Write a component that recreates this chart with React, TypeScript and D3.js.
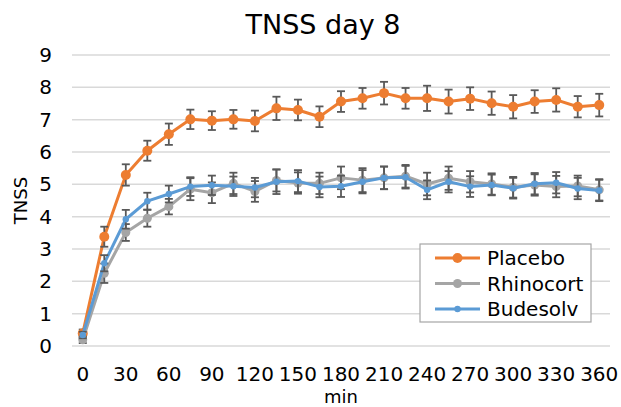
import React from "react";
import * as d3 from "d3";

const minutes = [0, 15, 30, 45, 60, 75, 90, 105, 120, 135, 150, 165, 180, 195, 210, 225, 240, 255, 270, 285, 300, 315, 330, 345, 360];
const yTicks = [0, 1, 2, 3, 4, 5, 6, 7, 8, 9];

const placebo = [0.39, 3.38, 5.29, 6.04, 6.55, 7.01, 6.97, 7.01, 6.96, 7.35, 7.3, 7.09, 7.56, 7.66, 7.82, 7.66, 7.66, 7.56, 7.65, 7.51, 7.4, 7.56, 7.61, 7.4, 7.45];
const placeboErr = [0.12, 0.31, 0.33, 0.31, 0.33, 0.3, 0.29, 0.29, 0.32, 0.36, 0.32, 0.32, 0.32, 0.32, 0.35, 0.32, 0.39, 0.37, 0.35, 0.36, 0.36, 0.35, 0.36, 0.33, 0.35];

const rhinocort = [0.19, 2.25, 3.51, 3.95, 4.31, 4.85, 4.74, 5.03, 4.78, 5.12, 5.04, 5.03, 5.2, 5.13, 5.2, 5.25, 5.01, 5.19, 5.08, 5.01, 4.91, 4.98, 4.93, 4.95, 4.83];
const rhinocortErr = [0.1, 0.3, 0.26, 0.26, 0.24, 0.34, 0.32, 0.33, 0.32, 0.34, 0.33, 0.33, 0.35, 0.37, 0.35, 0.35, 0.35, 0.36, 0.33, 0.33, 0.32, 0.33, 0.33, 0.32, 0.33];

const budesolv = [0.34, 2.56, 3.92, 4.48, 4.7, 4.93, 4.97, 4.94, 4.9, 5.08, 5.1, 4.92, 4.94, 5.08, 5.2, 5.22, 4.83, 5.08, 4.93, 4.98, 4.88, 5.02, 5.05, 4.87, 4.81];
const budesolvErr = [0.1, 0.25, 0.29, 0.26, 0.26, 0.29, 0.3, 0.3, 0.3, 0.38, 0.34, 0.32, 0.33, 0.36, 0.35, 0.35, 0.29, 0.33, 0.32, 0.32, 0.32, 0.33, 0.33, 0.33, 0.33];

const series = [
  { name: "Placebo", values: placebo, err: placeboErr, color: "#ED7D31", r: 5 },
  { name: "Rhinocort", values: rhinocort, err: rhinocortErr, color: "#A5A5A5", r: 4.5 },
  { name: "Budesolv", values: budesolv, err: budesolvErr, color: "#5B9BD5", r: 3.2 },
];

const width = 621;
const height = 407;
const font = "DejaVu Sans, Verdana, sans-serif";

const App = () => {
  const x = d3.scaleBand<number>().domain(minutes).range([72, 610]);
  const y = d3.scaleLinear().domain([0, 9]).range([346, 55]);
  const cx = (m: number) => (x(m) as number) + x.bandwidth() / 2;
  const line = d3
    .line<number>()
    .x((_, i) => cx(minutes[i]))
    .y((d) => y(d));

  return (
    <svg width={width} height={height} style={{ position: "absolute", left: 0, top: 0 }} fontFamily={font}>
      <rect width={width} height={height} fill="#fff" />
      <text x={323} y={34} fontSize={27} textAnchor="middle" fill="#000">
        TNSS day 8
      </text>

      {yTicks.map((t) => (
        <g key={t}>
          <line x1={72} x2={610} y1={y(t)} y2={y(t)} stroke="#d9d9d9" strokeWidth={1.5} />
          <text x={52} y={y(t) + 7} fontSize={20} textAnchor="end" fill="#000">
            {t}
          </text>
        </g>
      ))}

      {minutes
        .filter((m) => m % 30 === 0)
        .map((m) => (
          <text key={m} x={cx(m)} y={381} fontSize={20} textAnchor="middle" fill="#000">
            {m}
          </text>
        ))}
      <text x={341} y={403} fontSize={18} textAnchor="middle" fill="#000">
        min
      </text>
      <text transform={`translate(27,${(y(0) + y(9)) / 2}) rotate(-90)`} fontSize={18} textAnchor="middle" fill="#000">
        TNSS
      </text>

      {series.map((s) => (
        <g key={s.name}>
          <path d={line(s.values) || ""} fill="none" stroke={s.color} strokeWidth={3} strokeLinejoin="round" />
          {s.values.map((v, i) => {
            const px = cx(minutes[i]);
            const y1 = y(v + s.err[i]);
            const y2 = y(v - s.err[i]);
            return (
              <g key={i} stroke="#595959" strokeWidth={1.8}>
                <line x1={px} x2={px} y1={y1} y2={y2} />
                <line x1={px - 4} x2={px + 4} y1={y1} y2={y1} />
                <line x1={px - 4} x2={px + 4} y1={y2} y2={y2} />
              </g>
            );
          })}
          {s.values.map((v, i) => (
            <circle key={i} cx={cx(minutes[i])} cy={y(v)} r={s.r} fill={s.color} />
          ))}
        </g>
      ))}

      <g>
        <rect x={420} y={244} width={171} height={78} fill="#fff" stroke="#a6a6a6" strokeWidth={1.2} />
        {series.map((s, i) => {
          const ly = 258 + i * 25.5;
          return (
            <g key={s.name}>
              <line x1={435} x2={480} y1={ly} y2={ly} stroke={s.color} strokeWidth={3} />
              <circle cx={457.5} cy={ly} r={s.r} fill={s.color} />
              <text x={487} y={ly + 7} fontSize={20} fill="#000">
                {s.name}
              </text>
            </g>
          );
        })}
      </g>
    </svg>
  );
};

export default App;
